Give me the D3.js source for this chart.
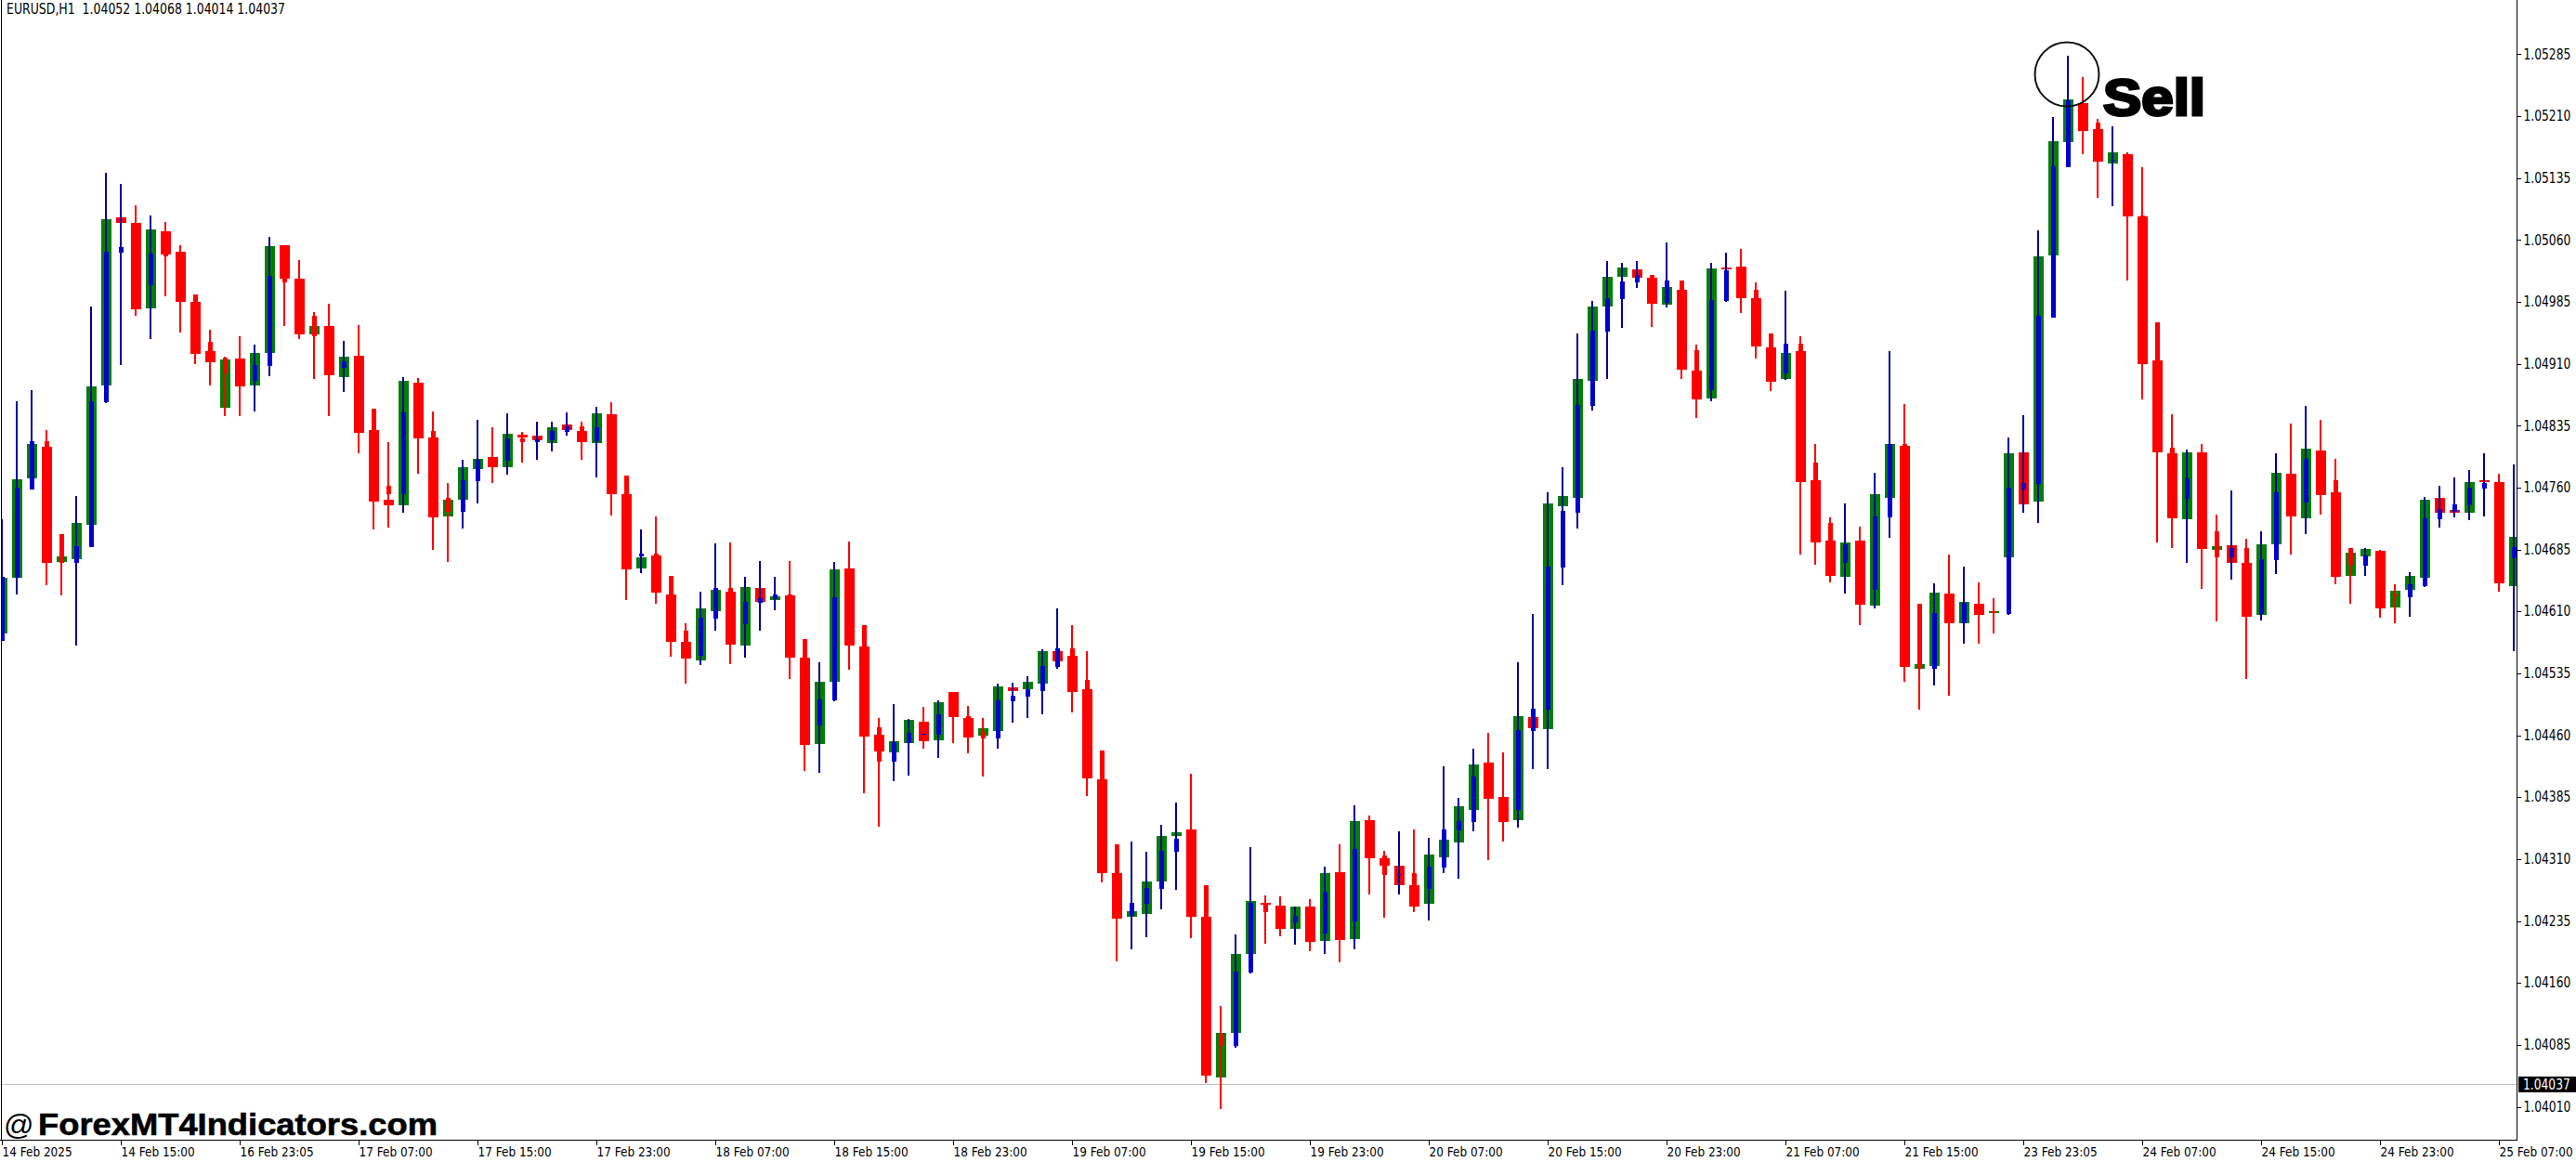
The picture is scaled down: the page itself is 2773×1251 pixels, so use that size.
<!DOCTYPE html>
<html>
<head>
<meta charset="utf-8">
<title>EURUSD,H1</title>
<script src="https://cdnjs.cloudflare.com/ajax/libs/d3/7.8.5/d3.min.js"></script>
<style>
  html, body { margin: 0; padding: 0; background: #fff; overflow: hidden; }
  text { font-family: "DejaVu Sans Condensed", "DejaVu Sans", sans-serif; font-stretch: condensed; }
</style>
</head>
<body>
<div id="chart"></div>
<script>
// Hourly bars, oldest first
var high = [
  1.04722,1.04864,1.04878,1.04830,1.04704,1.04750,1.04979,1.05141,1.05128,1.05102,
  1.05090,1.05082,1.05053,1.04994,1.04951,1.04919,1.04943,1.04933,1.05064,1.05054,
  1.05036,1.04973,1.04983,1.04938,1.04957,1.04855,1.04815,1.04894,1.04893,1.04852,
  1.04766,1.04794,1.04842,1.04833,1.04850,1.04827,1.04840,1.04840,1.04851,1.04840,
  1.04858,1.04863,1.04774,1.04709,1.04725,1.04653,1.04596,1.04634,1.04692,1.04693,
  1.04652,1.04671,1.04652,1.04671,1.04577,1.04548,1.04670,1.04695,1.04593,1.04481,
  1.04498,1.04480,1.04494,1.04502,1.04512,1.04495,1.04481,1.04522,1.04524,1.04531,
  1.04564,1.04614,1.04593,1.04562,1.04441,1.04328,1.04331,1.04319,1.04352,1.04378,
  1.04413,1.04278,1.04132,1.04219,1.04325,1.04266,1.04265,1.04252,1.04261,1.04301,
  1.04328,1.04375,1.04363,1.04320,1.04344,1.04346,1.04336,1.04422,1.04384,1.04444,
  1.04463,1.04439,1.04548,1.04607,1.04754,1.04785,1.04947,1.04986,1.05034,1.05032,
  1.05034,1.05017,1.05057,1.05011,1.04933,1.05032,1.05045,1.05049,1.05008,1.04947,
  1.04998,1.04943,1.04813,1.04724,1.04741,1.04713,1.04778,1.04925,1.04861,1.04619,
  1.04644,1.04679,1.04664,1.04645,1.04626,1.04821,1.04848,1.05072,1.05209,1.05283,
  1.05257,1.05206,1.05197,1.05166,1.05148,1.04960,1.04849,1.04806,1.04813,1.04727,
  1.04757,1.04698,1.04707,1.04801,1.04837,1.04859,1.04842,1.04795,1.04687,1.04687,
  1.04685,1.04643,1.04657,1.04749,1.04762,1.04772,1.04781,1.04802,1.04777,1.04788
];
var low = [
  1.04574,1.04631,1.04758,1.04642,1.04629,1.04569,1.04688,1.04862,1.04908,1.04968,
  1.04940,1.04992,1.04948,1.04910,1.04884,1.04846,1.04846,1.04852,1.04895,1.04956,
  1.04940,1.04891,1.04846,1.04876,1.04802,1.04709,1.04711,1.04729,1.04777,1.04685,
  1.04670,1.04710,1.04741,1.04765,1.04776,1.04790,1.04794,1.04804,1.04823,1.04794,
  1.04772,1.04726,1.04624,1.04656,1.04619,1.04555,1.04522,1.04545,1.04587,1.04546,
  1.04554,1.04587,1.04611,1.04528,1.04417,1.04414,1.04501,1.04539,1.04390,1.04349,
  1.04404,1.04411,1.04444,1.04433,1.04450,1.04438,1.04410,1.04444,1.04475,1.04481,
  1.04485,1.04541,1.04488,1.04386,1.04282,1.04186,1.04201,1.04215,1.04249,1.04273,
  1.04214,1.04039,1.04007,1.04082,1.04171,1.04208,1.04216,1.04206,1.04199,1.04195,
  1.04185,1.04201,1.04267,1.04239,1.04267,1.04246,1.04236,1.04293,1.04286,1.04344,
  1.04309,1.04331,1.04348,1.04419,1.04419,1.04642,1.04710,1.04853,1.04891,1.04953,
  1.05002,1.04955,1.04978,1.04892,1.04844,1.04864,1.04985,1.04971,1.04916,1.04877,
  1.04890,1.04679,1.04666,1.04645,1.04632,1.04593,1.04614,1.04699,1.04525,1.04491,
  1.04520,1.04508,1.04571,1.04571,1.04583,1.04606,1.04730,1.04717,1.04966,1.05148,
  1.05164,1.05111,1.05101,1.05011,1.04867,1.04694,1.04687,1.04669,1.04637,1.04598,
  1.04648,1.04528,1.04599,1.04655,1.04679,1.04704,1.04727,1.04643,1.04619,1.04653,
  1.04602,1.04596,1.04604,1.04640,1.04711,1.04724,1.04721,1.04725,1.04634,1.04562
];
var open = [
  1.04574,1.04651,1.04758,1.04816,1.04704,1.04669,1.04688,1.04863,1.05045,1.05080,
  1.05005,1.05070,1.05046,1.04994,1.04937,1.04917,1.04916,1.04889,1.04907,1.05053,
  1.05013,1.04968,1.04956,1.04905,1.04920,1.04855,1.04762,1.04752,1.04887,1.04829,
  1.04748,1.04731,1.04768,1.04797,1.04792,1.04819,1.04815,1.04817,1.04827,1.04834,
  1.04816,1.04849,1.04774,1.04677,1.04680,1.04653,1.04587,1.04556,1.04601,1.04638,
  1.04594,1.04620,1.04625,1.04630,1.04577,1.04472,1.04502,1.04662,1.04593,1.04470,
  1.04428,1.04450,1.04462,1.04461,1.04512,1.04483,1.04464,1.04456,1.04501,1.04507,
  1.04514,1.04543,1.04565,1.04527,1.04441,1.04328,1.04241,1.04256,1.04274,1.04319,
  1.04346,1.04278,1.04098,1.04084,1.04173,1.04257,1.04254,1.04233,1.04252,1.04220,
  1.04294,1.04235,1.04357,1.04314,1.04292,1.04293,1.04274,1.04300,1.04345,1.04355,
  1.04427,1.04385,1.04370,1.04465,1.04491,1.04663,1.04730,1.04859,1.04949,1.04988,
  1.05008,1.05017,1.04984,1.05011,1.04926,1.04878,1.04986,1.05028,1.05000,1.04947,
  1.04898,1.04934,1.04790,1.04717,1.04669,1.04696,1.04636,1.04724,1.04813,1.04619,
  1.04541,1.04632,1.04596,1.04619,1.04610,1.04607,1.04758,1.04764,1.04966,1.05148,
  1.05226,1.05202,1.05157,1.05164,1.05089,1.04960,1.04808,1.04746,1.04803,1.04707,
  1.04675,1.04687,1.04607,1.04672,1.04777,1.04742,1.04805,1.04769,1.04687,1.04665,
  1.04683,1.04631,1.04627,1.04641,1.04722,1.04731,1.04739,1.04759,1.04767,1.04674
];
var close = [
  1.04652,1.04760,1.04816,1.04669,1.04669,1.04689,1.04864,1.05046,1.05051,1.04976,
  1.05043,1.05040,1.04985,1.04922,1.04912,1.04898,1.04883,1.04908,1.05016,1.05008,
  1.04945,1.04943,1.04896,1.04913,1.04826,1.04743,1.04752,1.04851,1.04819,1.04724,
  1.04731,1.04769,1.04794,1.04785,1.04819,1.04815,1.04818,1.04828,1.04834,1.04815,
  1.04833,1.04752,1.04661,1.04680,1.04633,1.04573,1.04553,1.04602,1.04638,1.04570,
  1.04621,1.04626,1.04630,1.04554,1.04448,1.04503,1.04627,1.04569,1.04458,1.04428,
  1.04452,1.04463,1.04462,1.04485,1.04482,1.04457,1.04456,1.04502,1.04508,1.04516,
  1.04544,1.04565,1.04512,1.04408,1.04293,1.04238,1.04257,1.04275,1.04320,1.04335,
  1.04240,1.04048,1.04084,1.04174,1.04257,1.04246,1.04225,1.04241,1.04210,1.04271,
  1.04212,1.04322,1.04311,1.04291,1.04292,1.04252,1.04301,1.04346,1.04356,1.04410,
  1.04383,1.04355,1.04466,1.04492,1.04664,1.04732,1.04860,1.04950,1.04989,1.05010,
  1.05017,1.04983,1.05011,1.04903,1.04867,1.04987,1.05023,1.04989,1.04931,1.04888,
  1.04934,1.04767,1.04693,1.04653,1.04691,1.04618,1.04725,1.04813,1.04543,1.04540,
  1.04608,1.04596,1.04620,1.04606,1.04608,1.04760,1.04765,1.04968,1.05149,1.05229,
  1.05192,1.05155,1.05157,1.05088,1.04910,1.04803,1.04723,1.04771,1.04686,1.04675,
  1.04687,1.04603,1.04673,1.04754,1.04725,1.04795,1.04751,1.04652,1.04666,1.04678,
  1.04614,1.04628,1.04643,1.04723,1.04734,1.04740,1.04760,1.04766,1.04644,1.04688
];
// Wide bodies behind the candles (smoothed open/close)
var smoothOpen = [
  1.04583,1.04651,1.04771,1.04809,1.04670,1.04673,1.04715,1.04884,1.05087,1.05080,
  1.04977,1.05070,1.05046,1.04985,1.04925,1.04857,1.04916,1.04884,1.04923,1.05053,
  1.05013,1.04945,1.04956,1.04894,1.04920,1.04830,1.04745,1.04738,1.04887,1.04821,
  1.04725,1.04745,1.04782,1.04797,1.04785,1.04824,1.04823,1.04814,1.04836,1.04828,
  1.04814,1.04849,1.04752,1.04662,1.04678,1.04630,1.04573,1.04551,1.04610,1.04634,
  1.04569,1.04638,1.04624,1.04629,1.04554,1.04449,1.04525,1.04662,1.04567,1.04461,
  1.04439,1.04450,1.04476,1.04454,1.04512,1.04481,1.04459,1.04465,1.04518,1.04516,
  1.04522,1.04562,1.04556,1.04516,1.04407,1.04293,1.04240,1.04244,1.04283,1.04338,
  1.04346,1.04240,1.04046,1.04099,1.04195,1.04257,1.04254,1.04225,1.04252,1.04211,
  1.04294,1.04213,1.04357,1.04311,1.04302,1.04278,1.04256,1.04312,1.04330,1.04370,
  1.04427,1.04385,1.04357,1.04482,1.04467,1.04737,1.04747,1.04889,1.04979,1.05015,
  1.05024,1.05014,1.04981,1.05000,1.04902,1.04868,1.05026,1.05028,1.04989,1.04930,
  1.04891,1.04925,1.04769,1.04696,1.04652,1.04696,1.04617,1.04748,1.04810,1.04540,
  1.04544,1.04632,1.04596,1.04619,1.04608,1.04675,1.04803,1.04743,1.05041,1.05178,
  1.05226,1.05194,1.05152,1.05164,1.05088,1.04914,1.04802,1.04722,1.04803,1.04685,
  1.04690,1.04669,1.04606,1.04691,1.04777,1.04723,1.04805,1.04754,1.04653,1.04677,
  1.04683,1.04615,1.04636,1.04651,1.04748,1.04733,1.04730,1.04769,1.04767,1.04641
];
var smoothClose = [
  1.04651,1.04770,1.04813,1.04669,1.04677,1.04717,1.04882,1.05085,1.05080,1.04976,
  1.05073,1.05042,1.04985,1.04922,1.04912,1.04915,1.04883,1.04923,1.05052,1.05013,
  1.04945,1.04956,1.04896,1.04918,1.04826,1.04743,1.04739,1.04889,1.04819,1.04724,
  1.04745,1.04785,1.04795,1.04785,1.04825,1.04821,1.04817,1.04833,1.04830,1.04815,
  1.04850,1.04752,1.04661,1.04675,1.04633,1.04573,1.04553,1.04614,1.04636,1.04570,
  1.04639,1.04621,1.04628,1.04554,1.04448,1.04525,1.04661,1.04569,1.04458,1.04440,
  1.04453,1.04479,1.04453,1.04500,1.04482,1.04457,1.04469,1.04519,1.04514,1.04525,
  1.04562,1.04550,1.04512,1.04408,1.04293,1.04238,1.04247,1.04283,1.04338,1.04342,
  1.04240,1.04048,1.04099,1.04195,1.04259,1.04255,1.04225,1.04252,1.04210,1.04293,
  1.04212,1.04356,1.04311,1.04302,1.04278,1.04252,1.04315,1.04333,1.04374,1.04425,
  1.04383,1.04355,1.04483,1.04468,1.04741,1.04750,1.04891,1.04979,1.05015,1.05026,
  1.05014,1.04983,1.05003,1.04903,1.04867,1.05025,1.05024,1.04989,1.04931,1.04888,
  1.04923,1.04767,1.04693,1.04653,1.04694,1.04618,1.04752,1.04813,1.04543,1.04546,
  1.04633,1.04596,1.04621,1.04606,1.04610,1.04802,1.04740,1.05040,1.05179,1.05230,
  1.05192,1.05155,1.05166,1.05088,1.04910,1.04803,1.04723,1.04803,1.04686,1.04689,
  1.04669,1.04603,1.04691,1.04778,1.04725,1.04807,1.04751,1.04652,1.04681,1.04686,
  1.04614,1.04635,1.04653,1.04745,1.04730,1.04729,1.04767,1.04767,1.04644,1.04700
];
// one doji keeps a red wick with a blue dash
var redWickDoji = [62];

var priceTicks = [1.05285,1.05210,1.05135,1.05060,1.04985,1.04910,1.04835,1.04760,1.04685,
                  1.04610,1.04535,1.04460,1.04385,1.04310,1.04235,1.04160,1.04085,1.04010];
var timeLabels = ["14 Feb 2025","14 Feb 15:00","16 Feb 23:05","17 Feb 07:00","17 Feb 15:00","17 Feb 23:00",
                  "18 Feb 07:00","18 Feb 15:00","18 Feb 23:00","19 Feb 07:00","19 Feb 15:00","19 Feb 23:00",
                  "20 Feb 07:00","20 Feb 15:00","20 Feb 23:00","21 Feb 07:00","21 Feb 15:00","23 Feb 23:05",
                  "24 Feb 07:00","24 Feb 15:00","24 Feb 23:00","25 Feb 07:00"];
var barsPerLabel = 8;

var symbolTitle = "EURUSD,H1  1.04052 1.04068 1.04014 1.04037";
var lastPrice = 1.04037;
var sellBar = 139;

// Parameters
var width = 2773,
    height = 1251,
    plotRight = 2709,
    plotBottom = 1227,
    labelSize = 15,
    timeLabelSize = 14,  // the last date label has to fit inside the window
    priceSqueeze = 0.91, // terminal font is taller and narrower than the condensed one
    timeSqueeze = 0.96;

var red = "#ff0000", green = "#008000", wickBlue = "#000099", bodyBlue = "#0000cc";

var x = d3.scaleLinear().domain([0, high.length - 1]).range([2, 2 + 16 * (high.length - 1)]);
var y = d3.scaleLinear().domain([priceTicks[priceTicks.length - 1], priceTicks[0]]).range([1191.5, 58.2]);

var svg = d3.select("#chart").append("svg")
    .attr("width", width)
    .attr("height", height)
    .style("display", "block");

svg.append("clipPath").attr("id", "plot")
  .append("rect")
    .attr("x", 1.5).attr("y", 0)
    .attr("width", plotRight - 1.5).attr("height", plotBottom);

// current price line sits under the bars
svg.append("line")
    .attr("x1", 0).attr("x2", plotRight)
    .attr("y1", Math.floor(y(lastPrice)) + 0.5).attr("y2", Math.floor(y(lastPrice)) + 0.5)
    .attr("stroke", "#c0c0c0");

var g = svg.append("g")
    .attr("clip-path", "url(#plot)")
    .attr("shape-rendering", "crispEdges");

var bars = g.selectAll("g.bar")
  .data(d3.range(high.length))
  .enter().append("g")
    .attr("class", "bar");

// wide body
bars.append("rect")
    .attr("x", function(i) { return x(i) - 5; })
    .attr("width", 11)
    .attr("y", function(i) { return y(Math.max(smoothOpen[i], smoothClose[i])); })
    .attr("height", function(i) { return Math.max(1, Math.abs(y(smoothOpen[i]) - y(smoothClose[i]))); })
    .attr("fill", function(i) { return smoothClose[i] >= smoothOpen[i] ? green : red; });

// wick
bars.append("rect")
    .attr("x", function(i) { return x(i) - 1; })
    .attr("width", 2)
    .attr("y", function(i) { return y(high[i]); })
    .attr("height", function(i) { return y(low[i]) - y(high[i]); })
    .attr("fill", function(i) {
      return close[i] < open[i] || redWickDoji.indexOf(i) >= 0 ? red : wickBlue;
    });

// candle body
bars.append("rect")
    .attr("x", function(i) { return x(i) - 2; })
    .attr("width", 5)
    .attr("y", function(i) { return y(Math.max(open[i], close[i])); })
    .attr("height", function(i) { return Math.max(1, Math.abs(y(open[i]) - y(close[i]))); })
    .attr("fill", function(i) { return close[i] >= open[i] ? bodyBlue : red; });

// Axes
var yAxis = d3.axisRight(y)
    .tickValues(priceTicks)
    .tickFormat(d3.format(".5f"))
    .tickSize(4)
    .tickPadding(3);

var xAxis = d3.axisBottom(x)
    .tickValues(timeLabels.map(function(d, i) { return i * barsPerLabel; }))
    .tickFormat(function(d) { return timeLabels[d / barsPerLabel]; })
    .tickSize(5);

var axisRight = svg.append("g")
    .attr("transform", "translate(" + (plotRight + 0.5) + ",0)")
    .call(yAxis);
axisRight.select(".domain").remove();

var axisBottom = svg.append("g")
    .attr("transform", "translate(0," + (plotBottom + 0.5) + ")")
    .call(xAxis);
axisBottom.select(".domain").remove();

svg.selectAll(".tick text")
    .attr("font-family", null)
    .attr("fill", "#000");
svg.selectAll(".tick line")
    .attr("stroke", "#000")
    .attr("shape-rendering", "crispEdges");

axisRight.selectAll(".tick text")
    .style("font-size", labelSize + "px");

axisBottom.selectAll(".tick text")
    .style("font-size", timeLabelSize + "px")
    .attr("text-anchor", "start")
    .attr("x", 0)
    .attr("y", 17.5)
    .attr("dy", 0);

// Frame
var frame = svg.append("g").attr("stroke", "#000").attr("shape-rendering", "crispEdges");
frame.append("line").attr("x1", 1.5).attr("x2", 1.5).attr("y1", 0).attr("y2", plotBottom);
frame.append("line").attr("x1", plotRight + 0.5).attr("x2", plotRight + 0.5).attr("y1", 0).attr("y2", plotBottom + 1);
frame.append("line").attr("x1", 0).attr("x2", plotRight).attr("y1", plotBottom + 0.5).attr("y2", plotBottom + 0.5);

// Price tag
svg.append("rect")
    .attr("x", plotRight + 2).attr("y", y(lastPrice) - 8.5)
    .attr("width", width - plotRight - 2).attr("height", 17)
    .attr("fill", "#000");
var priceTag = svg.append("text")
    .attr("x", plotRight + 7).attr("y", y(lastPrice) + 5.5)
    .attr("fill", "#fff")
    .style("font-size", labelSize + "px")
    .text(d3.format(".5f")(lastPrice));

// Title
svg.append("text")
    .attr("x", 7).attr("y", 15)
    .attr("xml:space", "preserve")
    .style("white-space", "pre")
    .style("font-size", labelSize + "px")
    .attr("textLength", 300)
    .attr("lengthAdjust", "spacingAndGlyphs")
    .attr("fill", "#000")
    .text(symbolTitle);

// squeeze the labels back to the width they have on the terminal
function squeeze(selection, factor) {
  selection.each(function() {
    d3.select(this)
      .attr("textLength", this.getComputedTextLength() * factor)
      .attr("lengthAdjust", "spacingAndGlyphs");
  });
}
squeeze(axisRight.selectAll(".tick text"), priceSqueeze);
squeeze(priceTag, priceSqueeze);
squeeze(axisBottom.selectAll(".tick text"), timeSqueeze);

// Sell marker
svg.append("circle")
    .attr("cx", x(sellBar) - 1).attr("cy", 80).attr("r", 34.5)
    .attr("fill", "none")
    .attr("stroke", "#111")
    .attr("stroke-width", 2);

svg.append("text")
    .attr("x", 2264).attr("y", 123.5)
    .style("font-family", "'Liberation Sans', Arial, sans-serif")
    .style("font-stretch", "normal")
    .style("font-weight", "bold")
    .style("font-size", "56px")
    .attr("stroke", "#000")
    .attr("stroke-width", 3)
    .attr("textLength", 110)
    .attr("lengthAdjust", "spacingAndGlyphs")
    .attr("fill", "#000")
    .text("Sell");

// Site credit
svg.append("text")
    .attr("x", 4).attr("y", 1222)
    .style("font-family", "'Liberation Sans', Arial, sans-serif")
    .style("font-stretch", "normal")
    .style("font-size", "32px")
    .attr("fill", "#000")
    .text("@");

svg.append("text")
    .attr("x", 41).attr("y", 1222)
    .style("font-family", "'Liberation Sans', Arial, sans-serif")
    .style("font-stretch", "normal")
    .style("font-weight", "bold")
    .style("font-size", "33px")
    .attr("stroke", "#000")
    .attr("stroke-width", 0.6)
    .attr("textLength", 430)
    .attr("lengthAdjust", "spacingAndGlyphs")
    .attr("fill", "#000")
    .text("ForexMT4Indicators.com");
</script>
</body>
</html>
